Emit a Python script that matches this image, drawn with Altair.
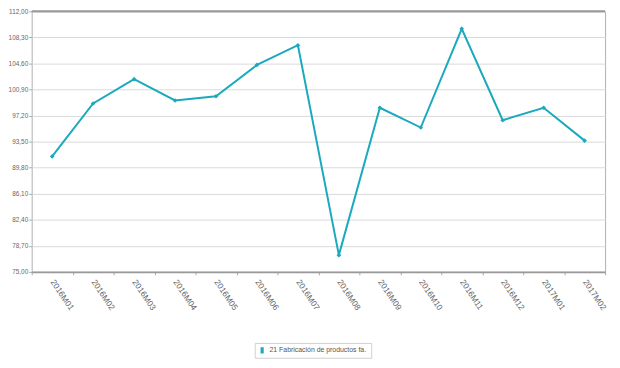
import altair as alt
import pandas as pd

periods = ["2016M01", "2016M02", "2016M03", "2016M04", "2016M05", "2016M06", "2016M07",
           "2016M08", "2016M09", "2016M10", "2016M11", "2016M12", "2017M01", "2017M02"]
values = [91.40, 98.92, 102.37, 99.34, 99.95, 104.39, 107.19,
          77.38, 98.31, 95.50, 109.52, 96.54, 98.31, 93.64]
series_name = "21 Fabricación de productos fa."
y_ticks = [75.00, 78.70, 82.40, 86.10, 89.80, 93.50, 97.20, 100.90, 104.60, 108.30, 112.00]
y_min, y_max = 75.00, 112.00

df = pd.DataFrame({"periodo": periods, "valor": values, "serie": [series_name] * len(periods)})

FONT = "Liberation Sans"
TEAL = "#1aa9bd"

x_enc = alt.X("periodo:N", sort=periods, title=None,
              scale=alt.Scale(paddingInner=0, paddingOuter=0),
              axis=alt.Axis(tickBand="extent", labelAngle=56, labelAlign="left",
                            labelBaseline="middle", labelPadding=5, tickSize=3,
                            tickColor="#aaaaaa", domainColor="#999999", domainWidth=2,
                            labelFont=FONT, labelFontSize=8.5, labelColor="#666666",
                            labelOverlap=False, grid=False))
y_enc = alt.Y("valor:Q", title=None,
              scale=alt.Scale(domain=[y_min, y_max], nice=False, zero=False),
              axis=alt.Axis(values=y_ticks, tickCount=30,
                            labelExpr="replace(format(datum.value, '.2f'), '.', ',')",
                            tickSize=3, tickColor="#aaaaaa", labelPadding=1,
                            labelOverlap=False, domain=False, gridColor="#d9d9d9",
                            labelFont=FONT, labelFontSize=6.5, labelColor="#666666"))

line = alt.Chart(df).mark_line(strokeWidth=2, point=alt.OverlayMarkDef(filled=True, size=22, shape="diamond")).encode(
    x=x_enc,
    y=y_enc,
    color=alt.Color("serie:N", scale=alt.Scale(range=[TEAL]),
                    legend=alt.Legend(title=None, orient="none", legendX=226, legendY=336,
                                      symbolType="M-0.5,-1H0.5V1H-0.5Z", symbolSize=40,
                                      symbolStrokeWidth=0, labelFont=FONT, labelFontSize=7,
                                      labelColor="#555555", strokeColor="#d0d0d0",
                                      padding=4)),
)

top_rule = alt.Chart(pd.DataFrame({"t": [y_max]})).mark_rule(color="#999999", strokeWidth=2).encode(
    y=alt.Y("t:Q", scale=alt.Scale(domain=[y_min, y_max], nice=False, zero=False))
)

chart = alt.layer(line, top_rule).properties(
    width=581, height=264,
    autosize=alt.AutoSizeParams(type="none"),
    padding={"left": 24, "top": 1, "right": 7, "bottom": 95},
).configure_view(stroke="#b0b0b0", strokeWidth=1)

chart.save("out.html", embed_options={"renderer": "svg", "actions": False})
